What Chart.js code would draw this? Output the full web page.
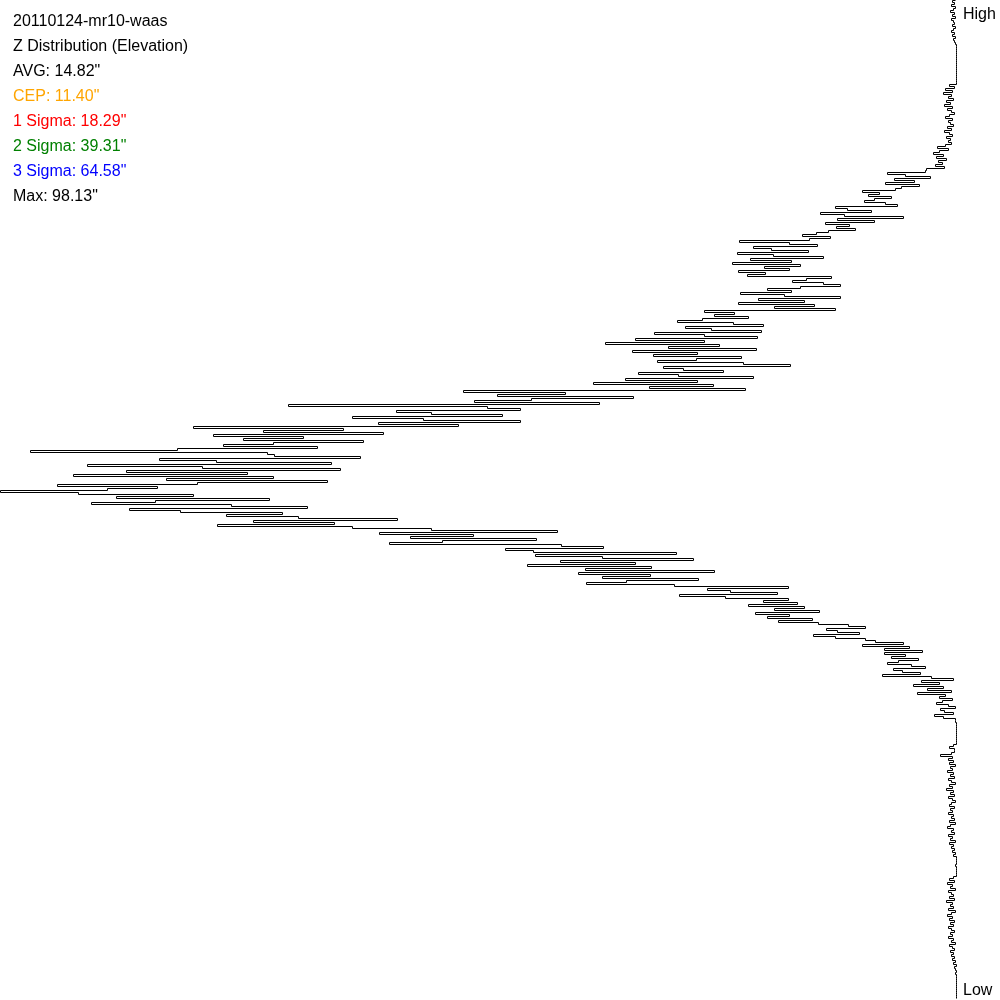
<!DOCTYPE html>
<html>
<head>
<meta charset="utf-8">
<script src="https://cdn.jsdelivr.net/npm/chart.js@4/dist/chart.umd.min.js"></script>
<style>
  html, body { margin: 0; padding: 0; background: #fff; }
  #wrap { position: relative; width: 1000px; height: 1000px; overflow: hidden; }
  canvas { position: absolute; left: 0; top: 0; }
  .lbl { position: absolute; font-family: "Liberation Sans", Arial, sans-serif; font-size: 16px; line-height: 25px; white-space: nowrap; }
</style>
</head>
<body>
<div id="wrap">
  <canvas id="c" width="1000" height="1000"></canvas>
  <div id="info" class="lbl" style="left:13px; top:8px;"></div>
  <div class="lbl" id="hi" style="left:963px; top:1px; color:#000;"></div>
  <div class="lbl" id="lo" style="left:963px; top:977px; color:#000;"></div>
</div>
<script>
// Header lines and their colours
const infoLines = [
  "20110124-mr10-waas",
  "Z Distribution (Elevation)",
  "AVG: 14.82\"",
  "CEP: 11.40\"",
  "1 Sigma: 18.29\"",
  "2 Sigma: 39.31\"",
  "3 Sigma: 64.58\"",
  "Max: 98.13\""
];
const infoColors = ["#000000", "#000000", "#000000", "#FFA500", "#FF0000", "#008000", "#0000FF", "#000000"];
const axisEnds = ["High", "Low"];

// Count per elevation bin, from High (top) to Low (bottom)
const countsTop = [
  2,5,3,6,2,4,7,3,5,2,6,4,3,5,2,4,6,3,5,2,4,3,2,1,
  1,1,1,1,1,1,1,1,1,1,1,1,1,1,1,1,1,1,1,
  8,3,12,5,14,6,9,4,11,7,13,5,10,6,3,8,12,5,9,7,4,10,6,13,8,5,11,7,9,6,
  12,20,9,18,24,14,21,11,19,15,22,13,31
];
const countsUpper = [
  32,70,52,27,63,43,72,38,56,
  62,95,78,89,66,83,93,72,60,
  122,110,86,137,113,
  54,120,83,
  132,108,121,102,129,
  141,155,127,148,
  218,168,140,204,186,149,
  220,184,134,207,166,225,157,193,
  168,219,192,210,
  126,151,165,134,117,157,
  190,166,217,
  173,117,199,153,219,143,183,122,
  253,223,243,
  209,255,280,224,194,
  272,246,196,303,253,
  200,322,253,352,238,
  289,201,325,260,304,216,
  261,300,214,167,
  294,274,234,319,279,
  204,332,260,364,244,308,212,
  494,392,460,324,426,483,358
];
const countsPeak = [
  669,470,
  437,561,526,455,605,534,437,579,499,
  764,614,694,574,744,654,714,594,684,734,
  640,780,927,690,
  683,597,798,741,626,870,755,
  617,831,710,884,684,791,630,
  760,900,800,850,957,
  879,764,841,688,802,866,726,650,828,777,675,
  731,659,560,704,623,740,605
];
const countsLower = [
  526,400,578,484,547,421,515,568,
  396,354,452,424,
  281,422,355,264,397,322,430,306,372,
  243,379,307,355,259,331,371,283,
  169,250,227,180,278,232,169,
  194,160,209,153,183,138,202,168,190,145,179,
  139,109,92,131,120,98,144,122,92,
  82,54,95,48,73,35,
  73,52,66,39,59,70,46,32,64,55,37,75,
  26,4,36,18,44,14,30,6,40,
  12,18,5,15,21,9,2,17,13,4,23,14,2
];
const countsBottom = [
  2,1,1,1,1,1,1,1,1,1,1,1,4,8,3,
  3,6,17,5,9,4,8,2,7,5,
  10,4,7,3,9,6,2,8,5,11,
  4,7,3,9,5,2,6,8,3,7,
  5,9,4,6,3,8,2,7,10,4,
  6,3,9,5,7,2,8,4,6,3,
  5,2,4,1,
  1,1,1,2,1,1,1,1,1,
  4,8,3,10,5,7,2,9,6,4,
  8,3,11,5,7,4,9,2,6,10,
  5,8,3,7,4,9,6,3,7,5,
  9,4,6,2,8,5,3,7,4,6,
  3,5,2,4,1,3,2,1,2,
  1,1,1,1,1,1,1,1,1,1,1,1
];

const counts = [].concat(countsTop, countsUpper, countsPeak, countsLower, countsBottom);
const bins = counts.map((_, i) => String(i));
const countMax = 957;

// text
const info = document.getElementById('info');
infoLines.forEach((t, i) => {
  const d = document.createElement('div');
  d.textContent = t;
  d.style.color = infoColors[i];
  info.appendChild(d);
});
document.getElementById('hi').textContent = axisEnds[0];
document.getElementById('lo').textContent = axisEnds[1];

const rowStep = 2;
const padBottom = 1000 - 0.5 - rowStep * (counts.length - 1);

new Chart(document.getElementById('c'), {
  type: 'line',
  data: {
    labels: bins,
    datasets: [{
      data: counts,
      borderColor: '#000000',
      borderWidth: 1,
      pointRadius: 0,
      pointHoverRadius: 0,
      stepped: true,
      fill: false,
      tension: 0,
      clip: false
    }]
  },
  options: {
    indexAxis: 'y',
    responsive: false,
    maintainAspectRatio: false,
    devicePixelRatio: 1,
    animation: false,
    events: [],
    layout: { padding: { left: 0.5, right: 42.5, top: 0.5, bottom: padBottom } },
    plugins: { legend: { display: false }, tooltip: { enabled: false }, title: { display: false } },
    scales: {
      x: { type: 'linear', reverse: true, min: 0, max: countMax, display: false },
      y: { type: 'category', offset: false, display: false }
    }
  }
});
</script>
</body>
</html>
